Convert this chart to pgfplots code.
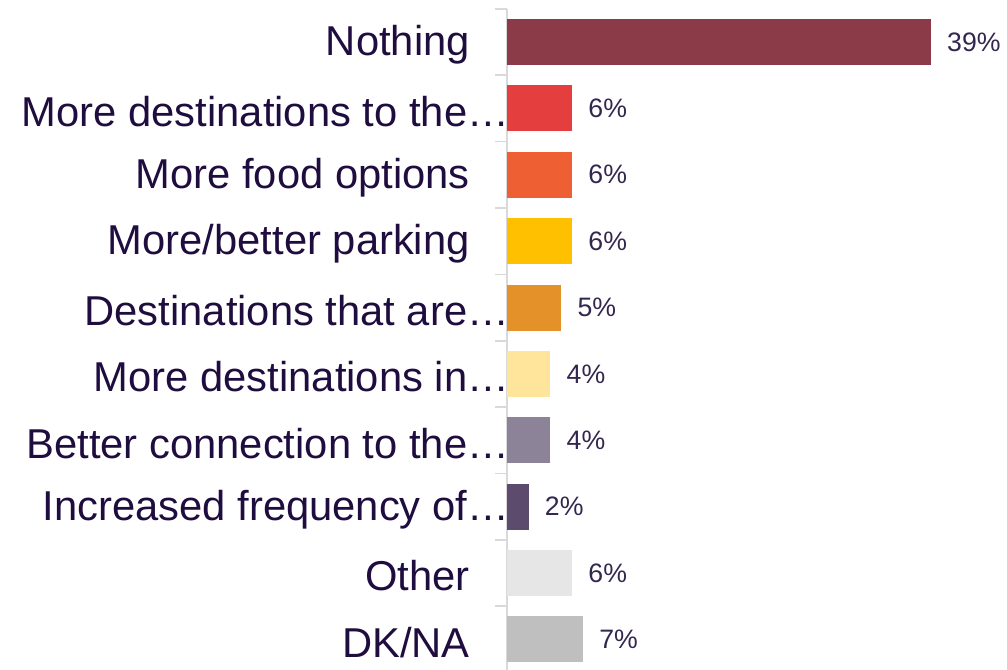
\documentclass[border=0pt]{standalone}
\usepackage{pgfplots}
\pgfplotsset{compat=1.18}
\usepackage{fontspec}
\setmainfont{Liberation Sans}
\definecolor{c0}{HTML}{8B3A47}
\definecolor{c1}{HTML}{E53E3E}
\definecolor{c2}{HTML}{EE5F34}
\definecolor{c3}{HTML}{FFC000}
\definecolor{c4}{HTML}{E5912A}
\definecolor{c5}{HTML}{FFE49C}
\definecolor{c6}{HTML}{8C8399}
\definecolor{c7}{HTML}{5C4B6C}
\definecolor{c8}{HTML}{E6E6E6}
\definecolor{c9}{HTML}{BFBFBF}
\definecolor{labtext}{HTML}{1F0D3F}
\definecolor{valtext}{HTML}{33264F}
\definecolor{axgray}{HTML}{D9D9D9}
\begin{document}
\begin{tikzpicture}[x=0.75pt,y=0.75pt]
\begin{axis}[
  at={(0,0)}, anchor=south west,
  scale only axis, width=375pt, height=495.9pt,
  xmin=0, xmax=46, ymin=-0.5, ymax=9.46, y dir=reverse,
  xbar, bar width=34.5pt, bar shift=0pt,
  hide x axis,
  axis y line*=left,
  y axis line style={draw=axgray, line width=1.2pt},
  ytick={0,...,9},
  yticklabels={Nothing,
    More destinations to the…\kern-29.5pt,
    More food options,
    More/better parking,
    Destinations that are…\kern-29.5pt,
    More destinations in…\kern-29.5pt,
    Better connection to the…\kern-29.5pt,
    Increased frequency of…\kern-29.5pt,
    Other,
    DK/NA},
  major tick length=0pt,
  minor ytick={-0.5,0.5,...,8.5},
  minor tick length=9pt,
  tick align=outside,
  minor tick style={draw=axgray, line width=1.2pt},
  yticklabel style={font=\fontsize{31.3}{36}\selectfont, text=labtext, inner sep=0pt, xshift=-27.75pt, yshift=-2.2pt},
  point meta=x,
  /pgf/number format/assume math mode=true,
  nodes near coords={\pgfmathprintnumber{\pgfplotspointmeta}\%},
  every node near coord/.append style={anchor=west, inner sep=0pt, xshift=12pt, font=\fontsize{20}{24}\selectfont, text=valtext},
  clip=false,
]
\addplot[fill=c0, draw=none] coordinates {(39,0)};
\addplot[fill=c1, draw=none] coordinates {(6,1)};
\addplot[fill=c2, draw=none] coordinates {(6,2)};
\addplot[fill=c3, draw=none] coordinates {(6,3)};
\addplot[fill=c4, draw=none] coordinates {(5,4)};
\addplot[fill=c5, draw=none] coordinates {(4,5)};
\addplot[fill=c6, draw=none] coordinates {(4,6)};
\addplot[fill=c7, draw=none] coordinates {(2,7)};
\addplot[fill=c8, draw=none] coordinates {(6,8)};
\addplot[fill=c9, draw=none] coordinates {(7,9)};
\end{axis}
\pgfresetboundingbox
\path (-507,0) rectangle (500,670);
\end{tikzpicture}
\end{document}
